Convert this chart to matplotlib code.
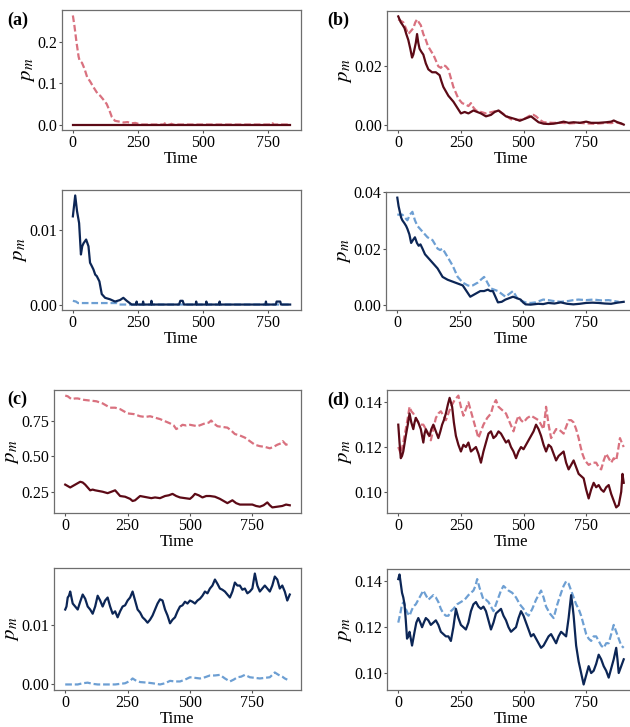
import matplotlib.pyplot as plt
from matplotlib.ticker import FormatStrFormatter

plt.rcParams['font.family'] = ['Liberation Serif', 'DejaVu Serif']
plt.rcParams['mathtext.fontset'] = 'stix'

RED = '#5c0a16'
PINK = '#d9717f'
NAVY = '#0c2656'
BLUE = '#6d9fd3'

# (time, p_m) samples for every series
a_top_solid = [(0, 0.0), (835, 0.0)]
a_top_dash = [(0, 0.265), (6, 0.24), (14, 0.20), (22, 0.165), (26, 0.155), (35, 0.15),
              (45, 0.135), (55, 0.115), (66, 0.105), (80, 0.09), (95, 0.075), (105, 0.07),
              (118, 0.06), (130, 0.05), (140, 0.035), (150, 0.018), (162, 0.009), (180, 0.007),
              (195, 0.005), (210, 0.006), (226, 0.003), (240, 0.004), (255, 0.001), (265, 0.0),
              (350, 0.0), (353, 0.003), (356, 0.0), (376, 0.0), (379, 0.002), (382, 0.0),
              (765, 0.0), (768, 0.003), (771, 0.0), (835, 0.0)]

a_bot_solid = [(0, 0.0118), (9, 0.0146), (16, 0.0125), (24, 0.0109), (31, 0.0067), (36, 0.0078),
               (41, 0.0082), (51, 0.0087), (60, 0.0078), (66, 0.0056), (72, 0.0052), (79, 0.0047),
               (86, 0.0040), (92, 0.0038), (102, 0.0031), (111, 0.0014), (124, 0.0009),
               (143, 0.0007), (162, 0.0004), (181, 0.0006), (194, 0.0009), (207, 0.0005),
               (226, 0.0), (243, 0.0), (245, 0.0004), (247, 0.0), (268, 0.0), (270, 0.0004),
               (272, 0.0), (300, 0.0), (302, 0.0005), (304, 0.0), (408, 0.0), (413, 0.0005),
               (422, 0.0005), (427, 0.0), (472, 0.0), (474, 0.0004), (476, 0.0), (511, 0.0),
               (513, 0.0004), (515, 0.0), (562, 0.0), (564, 0.0004), (566, 0.0), (740, 0.0),
               (742, 0.0004), (744, 0.0), (780, 0.0), (783, 0.0004), (797, 0.0004), (800, 0.0),
               (835, 0.0)]
a_bot_dash = [(0, 0.0005), (12, 0.0004), (20, 0.0002), (168, 0.0002), (175, 0.0), (835, 0.0)]

b_top_solid = [(0, 0.037), (5, 0.036), (10, 0.035), (18, 0.034), (25, 0.033), (32, 0.031),
               (40, 0.029), (48, 0.026), (55, 0.023), (60, 0.024), (65, 0.026), (70, 0.028),
               (75, 0.031), (80, 0.028), (85, 0.026), (92, 0.025), (100, 0.024), (110, 0.021),
               (120, 0.019), (135, 0.018), (150, 0.018), (165, 0.017), (172, 0.015), (180, 0.013),
               (190, 0.0115), (200, 0.010), (210, 0.009), (220, 0.008), (235, 0.006), (250, 0.004),
               (265, 0.0045), (280, 0.004), (300, 0.005), (315, 0.0045), (330, 0.004),
               (350, 0.003), (370, 0.0035), (385, 0.0045), (400, 0.005), (415, 0.004),
               (430, 0.003), (450, 0.0025), (470, 0.002), (485, 0.0015), (500, 0.002),
               (515, 0.0025), (530, 0.003), (545, 0.002), (560, 0.001), (580, 0.0005),
               (600, 0.0004), (620, 0.0005), (640, 0.0008), (660, 0.0012), (680, 0.0008),
               (700, 0.001), (725, 0.0008), (750, 0.0012), (770, 0.0008), (800, 0.0008),
               (830, 0.001), (850, 0.0012), (860, 0.0016), (875, 0.001), (890, 0.0006),
               (900, 0.0002)]
b_top_dash = [(0, 0.036), (10, 0.0355), (20, 0.035), (30, 0.033), (40, 0.031), (50, 0.032),
              (60, 0.033), (68, 0.035), (75, 0.036), (82, 0.035), (90, 0.034), (100, 0.031),
              (110, 0.029), (118, 0.027), (125, 0.026), (132, 0.025), (140, 0.024), (150, 0.022),
              (160, 0.020), (170, 0.0195), (180, 0.0205), (190, 0.020), (200, 0.019), (210, 0.016),
              (220, 0.013), (230, 0.011), (240, 0.009), (255, 0.0075), (270, 0.007),
              (280, 0.0065), (290, 0.0075), (300, 0.006), (310, 0.005), (330, 0.0045),
              (350, 0.004), (375, 0.0045), (400, 0.005), (425, 0.0035), (450, 0.002),
              (475, 0.0018), (500, 0.002), (520, 0.003), (530, 0.0035), (540, 0.0035),
              (550, 0.003), (565, 0.0018), (580, 0.001), (615, 0.0008), (650, 0.0008),
              (685, 0.0006), (720, 0.0008), (750, 0.0006), (780, 0.0005), (805, 0.0006),
              (830, 0.0008), (850, 0.0007), (870, 0.001), (885, 0.0006), (900, 0.0002)]

b_bot_solid = [(0, 0.038), (5, 0.035), (10, 0.033), (15, 0.031), (20, 0.030), (28, 0.029),
               (35, 0.028), (40, 0.027), (48, 0.025), (55, 0.022), (62, 0.023), (70, 0.024),
               (78, 0.022), (85, 0.021), (92, 0.0215), (100, 0.020), (110, 0.018), (120, 0.017),
               (130, 0.016), (140, 0.015), (150, 0.014), (160, 0.013), (170, 0.0115),
               (180, 0.010), (190, 0.0095), (200, 0.009), (215, 0.0085), (230, 0.008),
               (245, 0.0075), (260, 0.007), (275, 0.005), (290, 0.003), (300, 0.0035),
               (310, 0.004), (320, 0.0045), (330, 0.005), (345, 0.005), (360, 0.0055),
               (370, 0.005), (380, 0.005), (390, 0.003), (400, 0.001), (415, 0.0012),
               (430, 0.002), (445, 0.0025), (460, 0.003), (475, 0.0025), (490, 0.002),
               (500, 0.001), (510, 0.0003), (530, 0.0002), (560, 0.0005), (580, 0.0004),
               (600, 0.0008), (625, 0.0006), (650, 0.001), (675, 0.0005), (700, 0.0003),
               (725, 0.0005), (750, 0.0008), (775, 0.0009), (800, 0.0008), (825, 0.0006),
               (850, 0.0005), (875, 0.0009), (900, 0.0012)]
b_bot_dash = [(0, 0.032), (10, 0.032), (20, 0.032), (30, 0.031), (40, 0.030), (50, 0.032),
              (60, 0.033), (70, 0.030), (80, 0.028), (90, 0.027), (100, 0.026), (110, 0.025),
              (120, 0.024), (130, 0.0235), (140, 0.023), (150, 0.0215), (160, 0.020),
              (170, 0.0195), (180, 0.020), (190, 0.0185), (200, 0.017), (210, 0.0155),
              (220, 0.014), (230, 0.012), (240, 0.010), (250, 0.009), (260, 0.008),
              (270, 0.0075), (280, 0.007), (290, 0.0068), (300, 0.007), (310, 0.0075),
              (320, 0.008), (332, 0.009), (345, 0.010), (355, 0.0085), (370, 0.006),
              (385, 0.0055), (400, 0.005), (415, 0.004), (430, 0.003), (445, 0.004),
              (460, 0.005), (470, 0.0035), (480, 0.002), (495, 0.0015), (510, 0.001),
              (530, 0.0008), (550, 0.001), (565, 0.0015), (580, 0.002), (600, 0.0018),
              (620, 0.0015), (650, 0.0012), (680, 0.0015), (700, 0.0018), (720, 0.002),
              (750, 0.0018), (780, 0.002), (810, 0.0017), (840, 0.0018), (860, 0.0015),
              (880, 0.0012)]

c_top_solid = [(0, 0.30), (10, 0.29), (20, 0.28), (30, 0.29), (40, 0.30), (50, 0.31),
               (60, 0.32), (70, 0.315), (80, 0.30), (90, 0.28), (100, 0.26), (110, 0.265),
               (120, 0.26), (135, 0.255), (150, 0.25), (160, 0.245), (170, 0.24), (185, 0.25),
               (200, 0.26), (210, 0.24), (220, 0.22), (240, 0.215), (260, 0.20), (270, 0.185),
               (280, 0.19), (290, 0.205), (300, 0.22), (315, 0.215), (330, 0.21), (345, 0.205),
               (360, 0.21), (380, 0.205), (400, 0.22), (415, 0.225), (430, 0.235), (445, 0.22),
               (460, 0.21), (480, 0.205), (500, 0.20), (510, 0.215), (520, 0.235), (535, 0.225),
               (550, 0.21), (565, 0.22), (580, 0.22), (600, 0.215), (620, 0.20), (635, 0.185),
               (650, 0.17), (660, 0.18), (670, 0.19), (685, 0.17), (700, 0.16), (725, 0.16),
               (750, 0.16), (765, 0.15), (780, 0.145), (795, 0.155), (810, 0.175), (820, 0.155),
               (830, 0.14), (850, 0.145), (870, 0.15), (885, 0.16), (900, 0.155)]
c_top_dash = [(0, 0.925), (10, 0.92), (25, 0.90), (40, 0.905), (50, 0.905), (75, 0.895),
              (100, 0.89), (125, 0.885), (150, 0.87), (165, 0.855), (180, 0.84), (200, 0.84),
              (220, 0.83), (235, 0.815), (250, 0.80), (275, 0.795), (300, 0.78), (320, 0.775),
              (340, 0.78), (360, 0.77), (380, 0.76), (400, 0.745), (420, 0.73), (435, 0.715),
              (445, 0.69), (455, 0.70), (470, 0.72), (485, 0.715), (500, 0.72), (515, 0.715),
              (530, 0.71), (545, 0.72), (560, 0.73), (575, 0.735), (585, 0.75), (595, 0.73),
              (610, 0.71), (630, 0.705), (650, 0.70), (665, 0.68), (680, 0.655), (700, 0.645),
              (720, 0.63), (740, 0.605), (760, 0.58), (780, 0.57), (800, 0.565), (820, 0.555),
              (835, 0.565), (850, 0.58), (865, 0.59), (872, 0.605), (885, 0.58), (900, 0.59)]

c_bot_solid = [(0, 0.0125), (5, 0.013), (10, 0.0145), (15, 0.0148), (20, 0.0155), (25, 0.0145),
               (30, 0.0135), (40, 0.013), (50, 0.0125), (60, 0.0138), (70, 0.015), (80, 0.0143),
               (90, 0.013), (100, 0.0125), (110, 0.0118), (120, 0.013), (130, 0.0148),
               (140, 0.014), (150, 0.013), (160, 0.014), (170, 0.0145), (180, 0.013),
               (190, 0.0118), (200, 0.0122), (210, 0.0112), (220, 0.0122), (230, 0.013),
               (240, 0.0132), (250, 0.014), (260, 0.0145), (270, 0.0155), (280, 0.014),
               (290, 0.0125), (300, 0.012), (310, 0.0112), (320, 0.0108), (330, 0.0103),
               (340, 0.0108), (350, 0.0115), (360, 0.0125), (370, 0.0135), (380, 0.0142),
               (390, 0.014), (400, 0.0125), (410, 0.0115), (420, 0.0102), (430, 0.0108),
               (440, 0.0112), (450, 0.0122), (460, 0.013), (470, 0.0132), (480, 0.0138),
               (490, 0.0135), (500, 0.014), (510, 0.0138), (520, 0.0135), (530, 0.014),
               (540, 0.0143), (550, 0.0148), (560, 0.0155), (570, 0.0152), (580, 0.016),
               (590, 0.0165), (600, 0.0175), (610, 0.0168), (620, 0.016), (630, 0.0158),
               (640, 0.0155), (650, 0.015), (660, 0.0145), (670, 0.0155), (680, 0.017),
               (690, 0.0165), (700, 0.0165), (710, 0.0158), (720, 0.016), (730, 0.0152),
               (740, 0.0155), (750, 0.016), (760, 0.0185), (770, 0.0165), (780, 0.0155),
               (790, 0.016), (800, 0.0165), (810, 0.016), (820, 0.0155), (830, 0.0165),
               (840, 0.018), (850, 0.0175), (860, 0.016), (870, 0.0165), (880, 0.0155),
               (890, 0.014), (900, 0.015)]
c_bot_dash = [(0, 0.0), (50, 0.0), (70, 0.0002), (90, 0.0003), (110, 0.0001), (130, 0.0),
              (200, 0.0), (240, 0.0002), (260, 0.0006), (270, 0.001), (285, 0.0006),
              (300, 0.0004), (330, 0.0003), (350, 0.0002), (380, 0.0), (400, 0.0002),
              (420, 0.0006), (440, 0.0005), (460, 0.0005), (480, 0.0008), (500, 0.0012),
              (520, 0.0011), (540, 0.001), (560, 0.0012), (580, 0.0015), (600, 0.0015),
              (620, 0.0016), (630, 0.0013), (640, 0.001), (660, 0.0005), (675, 0.0008),
              (690, 0.0012), (705, 0.0013), (720, 0.0016), (740, 0.0012), (760, 0.0011),
              (780, 0.001), (800, 0.0011), (820, 0.0012), (840, 0.002), (855, 0.0016),
              (870, 0.0013), (880, 0.001), (890, 0.0008)]

d_top_solid = [(0, 0.130), (5, 0.122), (10, 0.115), (15, 0.116), (20, 0.118), (30, 0.125),
               (38, 0.130), (45, 0.135), (52, 0.131), (60, 0.128), (65, 0.131), (70, 0.133),
               (80, 0.131), (90, 0.128), (100, 0.122), (105, 0.126), (110, 0.128), (118, 0.126),
               (125, 0.125), (132, 0.128), (140, 0.130), (150, 0.127), (160, 0.124),
               (168, 0.127), (175, 0.130), (182, 0.132), (190, 0.135), (198, 0.139),
               (205, 0.142), (210, 0.140), (215, 0.138), (222, 0.131), (230, 0.125),
               (240, 0.121), (250, 0.118), (260, 0.121), (270, 0.120), (280, 0.122),
               (290, 0.118), (300, 0.119), (310, 0.120), (320, 0.117), (330, 0.113),
               (340, 0.118), (350, 0.122), (360, 0.126), (370, 0.127), (380, 0.124),
               (390, 0.125), (400, 0.127), (410, 0.126), (420, 0.124), (430, 0.122),
               (440, 0.123), (450, 0.120), (460, 0.118), (470, 0.115), (480, 0.118),
               (490, 0.120), (500, 0.119), (510, 0.121), (520, 0.123), (530, 0.125),
               (540, 0.127), (550, 0.130), (560, 0.128), (570, 0.125), (580, 0.121),
               (590, 0.118), (600, 0.121), (610, 0.120), (620, 0.117), (630, 0.114),
               (640, 0.116), (650, 0.117), (660, 0.118), (670, 0.113), (680, 0.110),
               (690, 0.112), (700, 0.114), (710, 0.111), (720, 0.108), (730, 0.107),
               (740, 0.106), (750, 0.101), (760, 0.097), (770, 0.101), (780, 0.104),
               (790, 0.102), (800, 0.103), (810, 0.101), (820, 0.100), (830, 0.102),
               (840, 0.103), (850, 0.099), (860, 0.096), (870, 0.093), (880, 0.094),
               (890, 0.100), (895, 0.108), (900, 0.104)]
d_top_dash = [(0, 0.120), (10, 0.117), (20, 0.122), (30, 0.128), (38, 0.133), (45, 0.138),
              (52, 0.136), (60, 0.135), (70, 0.133), (80, 0.131), (90, 0.130), (100, 0.130),
              (115, 0.127), (130, 0.123), (140, 0.128), (150, 0.133), (160, 0.135),
              (170, 0.136), (180, 0.134), (190, 0.132), (200, 0.135), (210, 0.138),
              (225, 0.141), (240, 0.143), (250, 0.138), (260, 0.134), (270, 0.137),
              (280, 0.140), (290, 0.136), (300, 0.132), (310, 0.128), (320, 0.124),
              (330, 0.127), (340, 0.130), (355, 0.133), (370, 0.135), (380, 0.139),
              (390, 0.141), (400, 0.138), (410, 0.137), (420, 0.136), (430, 0.135),
              (445, 0.131), (460, 0.127), (470, 0.131), (480, 0.134), (490, 0.132),
              (500, 0.131), (515, 0.133), (530, 0.134), (545, 0.133), (560, 0.132),
              (570, 0.130), (580, 0.128), (590, 0.138), (600, 0.130), (610, 0.124),
              (620, 0.126), (630, 0.128), (640, 0.128), (650, 0.127), (660, 0.126),
              (670, 0.129), (680, 0.132), (690, 0.132), (700, 0.131), (710, 0.128),
              (720, 0.124), (728, 0.120), (735, 0.117), (745, 0.114), (760, 0.112),
              (775, 0.113), (790, 0.113), (800, 0.111), (810, 0.110), (820, 0.114),
              (830, 0.117), (840, 0.115), (850, 0.113), (860, 0.115), (870, 0.114),
              (878, 0.119), (885, 0.124), (892, 0.122), (900, 0.120)]

d_bot_solid = [(0, 0.141), (5, 0.143), (10, 0.139), (15, 0.135), (20, 0.133), (25, 0.130),
               (30, 0.123), (35, 0.115), (40, 0.116), (45, 0.118), (50, 0.115), (55, 0.112),
               (60, 0.115), (65, 0.118), (72, 0.122), (80, 0.124), (88, 0.122), (95, 0.120),
               (102, 0.122), (110, 0.124), (120, 0.123), (130, 0.121), (140, 0.122),
               (150, 0.123), (160, 0.121), (170, 0.118), (180, 0.117), (190, 0.116),
               (200, 0.116), (210, 0.114), (220, 0.120), (230, 0.128), (240, 0.124),
               (250, 0.121), (260, 0.120), (270, 0.119), (280, 0.122), (290, 0.127),
               (300, 0.130), (310, 0.131), (320, 0.129), (330, 0.128), (340, 0.129),
               (350, 0.127), (360, 0.123), (370, 0.119), (380, 0.122), (390, 0.126),
               (400, 0.127), (410, 0.128), (420, 0.125), (430, 0.123), (440, 0.120),
               (450, 0.118), (460, 0.119), (470, 0.120), (480, 0.124), (490, 0.127),
               (500, 0.125), (510, 0.122), (520, 0.119), (530, 0.116), (540, 0.117),
               (550, 0.115), (560, 0.113), (570, 0.111), (580, 0.112), (590, 0.114),
               (600, 0.116), (610, 0.117), (620, 0.115), (630, 0.113), (640, 0.116),
               (650, 0.118), (660, 0.117), (670, 0.116), (680, 0.124), (690, 0.134),
               (695, 0.130), (700, 0.125), (710, 0.112), (720, 0.105), (730, 0.100),
               (740, 0.095), (750, 0.099), (760, 0.103), (770, 0.100), (780, 0.101),
               (790, 0.104), (800, 0.108), (810, 0.106), (820, 0.103), (830, 0.101),
               (840, 0.098), (850, 0.102), (860, 0.106), (870, 0.111), (875, 0.106),
               (880, 0.100), (890, 0.103), (900, 0.106)]
d_bot_dash = [(0, 0.122), (8, 0.126), (15, 0.130), (22, 0.131), (30, 0.128), (38, 0.126),
              (45, 0.125), (52, 0.127), (60, 0.129), (70, 0.130), (80, 0.132), (90, 0.134),
              (100, 0.136), (110, 0.134), (120, 0.132), (130, 0.133), (140, 0.134),
              (150, 0.133), (160, 0.131), (170, 0.128), (180, 0.126), (190, 0.125),
              (200, 0.125), (210, 0.127), (220, 0.128), (235, 0.130), (250, 0.131),
              (265, 0.132), (280, 0.134), (290, 0.135), (300, 0.136), (308, 0.138),
              (315, 0.141), (325, 0.137), (340, 0.132), (350, 0.132), (360, 0.131),
              (370, 0.129), (380, 0.127), (390, 0.130), (400, 0.133), (410, 0.136),
              (420, 0.138), (430, 0.137), (440, 0.136), (455, 0.135), (470, 0.133),
              (485, 0.130), (500, 0.128), (510, 0.126), (520, 0.125), (535, 0.128),
              (550, 0.132), (560, 0.134), (570, 0.136), (580, 0.133), (590, 0.129),
              (605, 0.126), (620, 0.124), (635, 0.130), (650, 0.135), (660, 0.138),
              (670, 0.140), (680, 0.139), (690, 0.136), (700, 0.133), (710, 0.130),
              (720, 0.128), (730, 0.125), (740, 0.121), (750, 0.117), (760, 0.115),
              (770, 0.114), (780, 0.116), (790, 0.116), (800, 0.114), (810, 0.112),
              (820, 0.111), (830, 0.113), (840, 0.113), (850, 0.117), (860, 0.121),
              (870, 0.118), (880, 0.115), (890, 0.112), (900, 0.111)]

# panel letter + its spot, box in pixels (left, top, right, bottom), series, colours, y ticks, y format
panels = [
    (('(a)', 7, 20), (62, 10, 301, 130), a_top_solid, a_top_dash, RED, PINK, [0.0, 0.1, 0.2], '%.1f'),
    (None, (62, 190, 301, 310), a_bot_solid, a_bot_dash, NAVY, BLUE, [0.0, 0.01], '%.2f'),
    (('(b)', 327, 20), (387, 11, 635, 130), b_top_solid, b_top_dash, RED, PINK, [0.0, 0.02], '%.2f'),
    (None, (386, 192, 635, 310), b_bot_solid, b_bot_dash, NAVY, BLUE, [0.0, 0.02, 0.04], '%.2f'),
    (('(c)', 7, 399), (54, 390, 301, 513), c_top_solid, c_top_dash, RED, PINK, [0.25, 0.50, 0.75], '%.2f'),
    (None, (54, 568, 301, 690), c_bot_solid, c_bot_dash, NAVY, BLUE, [0.0, 0.01], '%.2f'),
    (('(d)', 327, 400), (387, 390, 635, 513), d_top_solid, d_top_dash, RED, PINK, [0.10, 0.12, 0.14], '%.2f'),
    (None, (387, 569, 635, 690), d_bot_solid, d_bot_dash, NAVY, BLUE, [0.10, 0.12, 0.14], '%.2f'),
]

W, H = 630, 727
fig = plt.figure(figsize=(W / 100, H / 100), dpi=100)

for letter, (l, t, r, b), solid, dash, c_solid, c_dash, yt, fmt in panels:
    ax = fig.add_axes([l / W, 1 - b / H, (r - l) / W, (b - t) / H])
    ax.plot([p[0] for p in dash], [p[1] for p in dash], color=c_dash, lw=1.6,
            dashes=(3, 1.3))
    ax.plot([p[0] for p in solid], [p[1] for p in solid], color=c_solid, lw=1.6)
    ax.margins(0.05)
    ax.set_xticks([0, 250, 500, 750])
    ax.set_yticks(yt)
    ax.yaxis.set_major_formatter(FormatStrFormatter(fmt))
    ax.tick_params(labelsize=11.5, length=2.5, width=0.8, color='#555555', pad=1)
    for s in ax.spines.values():
        s.set_color('#6e6e6e')
        s.set_linewidth(0.9)
    ax.set_xlabel('Time', fontsize=12, labelpad=0)
    ax.set_ylabel(r'$p_m$', fontsize=15, labelpad=0)
    if letter:
        txt, lx, ly = letter
        fig.text(lx / W, 1 - ly / H, txt, fontsize=13, fontweight='bold',
                 ha='left', va='center')

fig.savefig('out.png', dpi=100)
